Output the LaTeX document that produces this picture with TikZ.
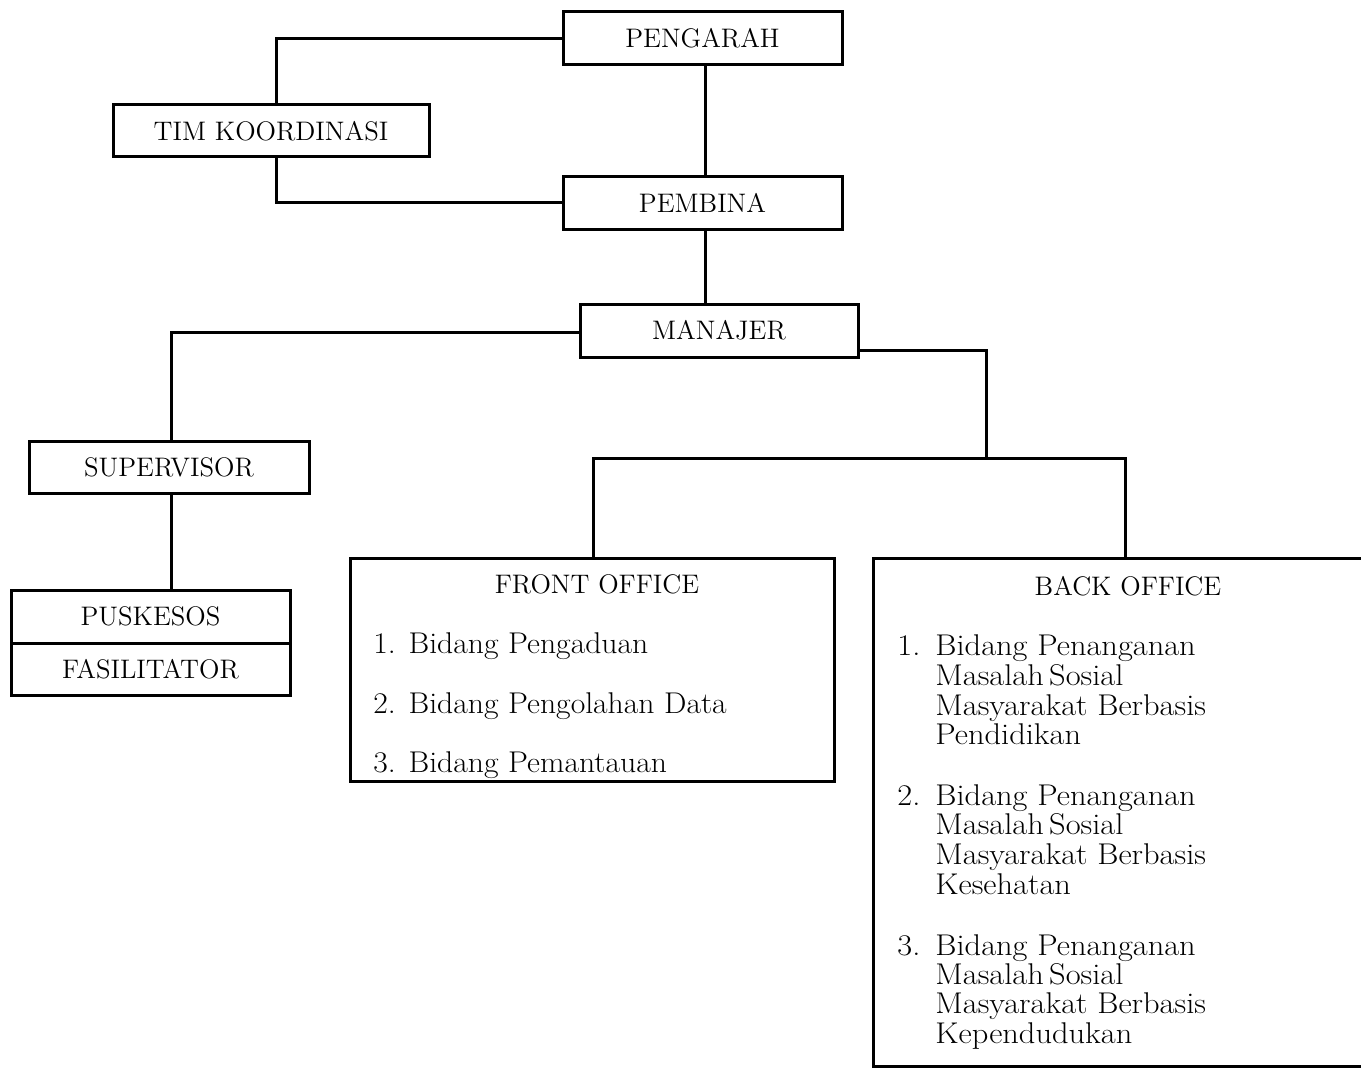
\documentclass[tikz,border=0pt]{standalone}
\usepackage{graphicx}
\usepackage{tikz}
\newcommand{\widefo}[1]{\scalebox{1.055}[1]{#1}}
\newcommand{\widebo}[1]{\scalebox{1.08}[1]{#1}}
\begin{document}
\begin{tikzpicture}[x=0.5pt,y=-0.5pt,
  box/.style={draw, line width=1.5pt, rectangle, inner sep=0pt, font=\fontsize{13.4}{15}\selectfont},
  conn/.style={line width=1.5pt},
  ttl/.style={anchor=base, inner sep=0pt, font=\fontsize{13.4}{15}\selectfont},
  item/.style={anchor=base west, inner sep=0pt, font=\fontsize{15}{15}\selectfont}]
\useasboundingbox (0,0) rectangle (1361,1070);
\clip (0,0) rectangle (1361,1070);
% boxes
\node[box, minimum width=139.5pt, minimum height=26.5pt] (peng) at (702.5,38.5) {PENGARAH};
\node[box, minimum width=158pt, minimum height=26pt] (tim) at (271,131) {TIM KOORDINASI};
\node[box, minimum width=139.5pt, minimum height=26pt] (pemb) at (702.5,203) {PEMBINA};
\node[box, minimum width=139pt, minimum height=26.5pt] (man) at (719,330.5) {MANAJER};
\node[box, minimum width=140pt, minimum height=26pt] (sup) at (169,467) {SUPERVISOR};
\node[box, minimum width=139.5pt, minimum height=26.5pt] (pusk) at (150.5,616.5) {PUSKESOS};
\node[box, minimum width=139.5pt, minimum height=26pt] (fas) at (150.5,669) {FASILITATOR};
\node[box, minimum width=242pt, minimum height=111.5pt] (fo) at (592,669.5) {};
\node[box, minimum width=251pt, minimum height=254pt] (bo) at (1124,812) {};
% junction points
\coordinate (mr) at (858,350);
\coordinate (j) at (986,458);
\coordinate (fl) at (593,458);
\coordinate (bl) at (1125,458);
% connectors
\draw[conn] (peng.west) -| ([xshift=2.5pt]tim.north);
\draw[conn] ([xshift=2.5pt]tim.south) |- (pemb.west);
\draw[conn] ([xshift=1.5pt]peng.south) -- ([xshift=1.5pt]pemb.north);
\draw[conn] ([xshift=1.5pt]pemb.south) -- ([xshift=1.5pt]pemb.south |- man.north);
\draw[conn] ([yshift=-1pt]man.west) -| ([xshift=1pt]sup.north);
\draw[conn] ([xshift=1pt]sup.south) -- ([xshift=1pt]sup.south |- pusk.north);
\draw[conn] (man.east |- mr) -| (j);
\draw[conn] (fo.north -| fl) |- (bl) -- (bo.north -| bl);
% front office text
\node[ttl] (fot) at (597,593) {FRONT OFFICE};
\node[item] (f1) at (373,653) {\widefo{1. Bidang Pengaduan}};
\node[item] (f2) at (373,713) {\widefo{2. Bidang Pengolahan Data}};
\node[item] (f3) at (373,772) {\widefo{3. Bidang Pemantauan}};
% back office text
\node[ttl] (bot) at (1128,595) {BACK OFFICE};
\node[item] (n1) at (897,655) {\widebo{1.}};
\node[item] (n2) at (897,805) {\widebo{2.}};
\node[item] (n3) at (897,955) {\widebo{3.}};
\node[item] (a1) at (935,655) {\widebo{Bidang Penanganan}};
\node[item] (a2) at (935,685) {\widebo{Masalah\,Sosial}};
\node[item] (a3) at (935,715) {\widebo{Masyarakat Berbasis}};
\node[item] (a4) at (935,744) {\widebo{Pendidikan}};
\node[item] (b1) at (935,805) {\widebo{Bidang Penanganan}};
\node[item] (b2) at (935,834) {\widebo{Masalah\,Sosial}};
\node[item] (b3) at (935,864) {\widebo{Masyarakat Berbasis}};
\node[item] (b4) at (935,894) {\widebo{Kesehatan}};
\node[item] (c1) at (935,955) {\widebo{Bidang Penanganan}};
\node[item] (c2) at (935,984) {\widebo{Masalah\,Sosial}};
\node[item] (c3) at (935,1013) {\widebo{Masyarakat Berbasis}};
\node[item] (c4) at (935,1043) {\widebo{Kependudukan}};
\end{tikzpicture}
\end{document}
